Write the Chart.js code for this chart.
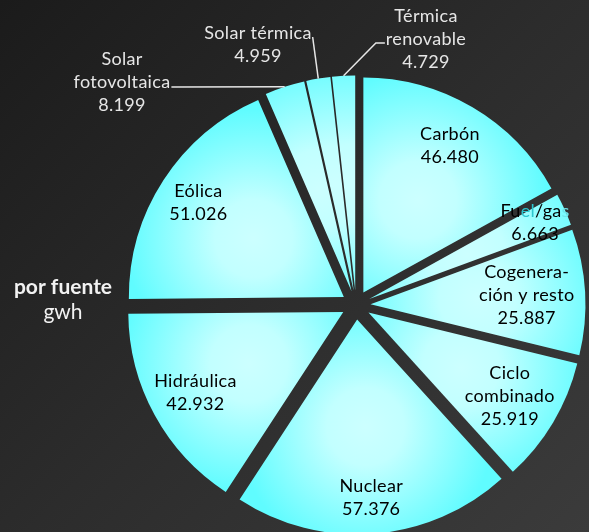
<!DOCTYPE html>
<html>
<head>
<meta charset="utf-8">
<script src="https://cdn.jsdelivr.net/npm/chart.js@4.4.0/dist/chart.umd.min.js"></script>
<style>
  html, body { margin: 0; padding: 0; }
  body {
    width: 589px; height: 532px; overflow: hidden;
    background: linear-gradient(135deg, #1b1b1b 0%, #2c2c2c 50%, #3b3b3b 100%);
  }
</style>
</head>
<body>
<canvas id="pie" width="589" height="532"></canvas>
<script>
// generación por fuente, gwh (clockwise from the top)
const fuentes = ["Carbón", "Fuel/gas", "Cogeneración y resto", "Ciclo combinado", "Nuclear",
                 "Hidráulica", "Eólica", "Solar fotovoltaica", "Solar térmica", "Térmica renovable"];
const gwh = [46480, 6663, 25887, 25919, 57376, 42932, 51026, 8199, 4959, 4729];
// how each name is broken on the picture
const lineas = [["Carbón"], ["Fuel/gas"], ["Cogenera-", "ción y resto"], ["Ciclo", "combinado"], ["Nuclear"],
                ["Hidráulica"], ["Eólica"], ["Solar", "fotovoltaica"], ["Solar térmica"], ["Térmica", "renovable"]];

const EXPLODE = 14.5;   // px each slice is pulled out
const LINE_H = 23;
const FONT = '18px Lato';
// distance of each inside label from the pie centre (px)
const labelDist = [185, 197, 171, 179, 193, 183, 188];

// thousands with a dot, as in the original
function fmt(v) {
  return String(v).replace(/\B(?=(\d{3})+(?!\d))/g, '.');
}

// labels that sit outside the pie, with their leader lines
const fuera = {
  7: { x: 122, y: 59, from: 'right', line: 1, dy: 5 },
  8: { x: 258, y: 33, from: 'right', line: 0, dy: 4 },
  9: { x: 426, y: 16, from: 'left',  line: 1, dy: 4 }
};

const explodePlugin = {
  id: 'explode',
  beforeDatasetDraw(chart, args) {
    const ctx = chart.ctx;
    const R = args.meta.controller.outerRadius;
    args.meta.data.forEach(arc => {
      const mid = (arc.startAngle + arc.endAngle) / 2;
      const gx = arc.x + Math.cos(mid) * R * 0.5;
      const gy = arc.y + Math.sin(mid) * R * 0.5;
      const grad = ctx.createRadialGradient(gx, gy, 0, gx, gy, R * 0.6);
      grad.addColorStop(0, '#ccffff');
      grad.addColorStop(0.3, '#c2ffff');
      grad.addColorStop(1, '#60fcff');
      const saved = arc.options;
      arc.options = Object.assign({}, saved, { backgroundColor: grad });
      ctx.save();
      ctx.translate(Math.cos(mid) * EXPLODE, Math.sin(mid) * EXPLODE);
      arc.draw(ctx);
      ctx.restore();
      arc.options = saved;
    });
    return false;
  }
};

function drawLines(ctx, lines, x, yFirst, color) {
  ctx.fillStyle = color;
  lines.forEach((t, k) => ctx.fillText(t, x, yFirst + k * LINE_H));
}

const labelPlugin = {
  id: 'etiquetas',
  afterDatasetsDraw(chart) {
    const ctx = chart.ctx;
    const meta = chart.getDatasetMeta(0);
    const R = meta.controller.outerRadius;
    ctx.save();
    ctx.font = FONT;
    ctx.letterSpacing = '0.3px';
    ctx.textAlign = 'center';
    ctx.textBaseline = 'middle';
    meta.data.forEach((arc, i) => {
      const mid = (arc.startAngle + arc.endAngle) / 2;
      const lines = lineas[i].concat(fmt(gwh[i]));
      const f = fuera[i];
      if (f) {
        drawLines(ctx, lines, f.x, f.y, '#e6e6e6');
        const w = ctx.measureText(lines[f.line]).width;
        const ly = f.y + f.line * LINE_H + f.dy;
        const ex = arc.x + Math.cos(mid) * (R + EXPLODE);
        const ey = arc.y + Math.sin(mid) * (R + EXPLODE);
        ctx.strokeStyle = '#e6e6e6';
        ctx.lineWidth = 1.5;
        ctx.beginPath();
        if (f.from === 'right') {
          ctx.moveTo(f.x + w / 2 + 1, ly);
          ctx.lineTo(ex, ey);
        } else {
          ctx.moveTo(f.x - w / 2 - 1, ly);
          ctx.lineTo(f.x - w / 2 - 10, ly);
          ctx.lineTo(ex, ey);
        }
        ctx.stroke();
        return;
      }
      const r = labelDist[i];
      const x = arc.x + Math.cos(mid) * r;
      const y = arc.y + Math.sin(mid) * r;
      const y0 = y - (lines.length - 1) * LINE_H / 2;
      if (i === 1) {
        // the "Fuel/gas" label is partly washed out in the original
        const parts = [['Fu', '#000'], ['el', '#2cc6ce'], ['/ga', '#000'], ['s', '#6fe6ea']];
        const total = ctx.measureText(lines[0]).width;
        let cx = x - total / 2;
        ctx.textAlign = 'left';
        parts.forEach(([t, c]) => {
          ctx.fillStyle = c;
          ctx.fillText(t, cx, y0);
          cx += ctx.measureText(t).width;
        });
        ctx.textAlign = 'center';
        drawLines(ctx, lines.slice(1), x, y0 + LINE_H, '#000');
      } else {
        drawLines(ctx, lines, x, y0, '#000');
      }
    });
    // side title
    ctx.letterSpacing = '0px';
    ctx.fillStyle = '#f2f2f2';
    ctx.font = 'bold 21px Lato';
    ctx.fillText('por fuente', 63, 287);
    ctx.font = '21px Lato';
    ctx.fillText('gwh', 63, 312);
    ctx.restore();
  }
};

new Chart(document.getElementById('pie'), {
  type: 'pie',
  data: {
    labels: fuentes,
    datasets: [{
      data: gwh,
      backgroundColor: '#66ffff',
      borderWidth: 0
    }]
  },
  options: {
    responsive: false,
    animation: false,
    radius: 215,
    layout: { padding: { left: 123, top: 78, right: 0, bottom: 0 } },
    plugins: {
      legend: { display: false },
      tooltip: { enabled: false }
    }
  },
  plugins: [explodePlugin, labelPlugin]
});
</script>
</body>
</html>
